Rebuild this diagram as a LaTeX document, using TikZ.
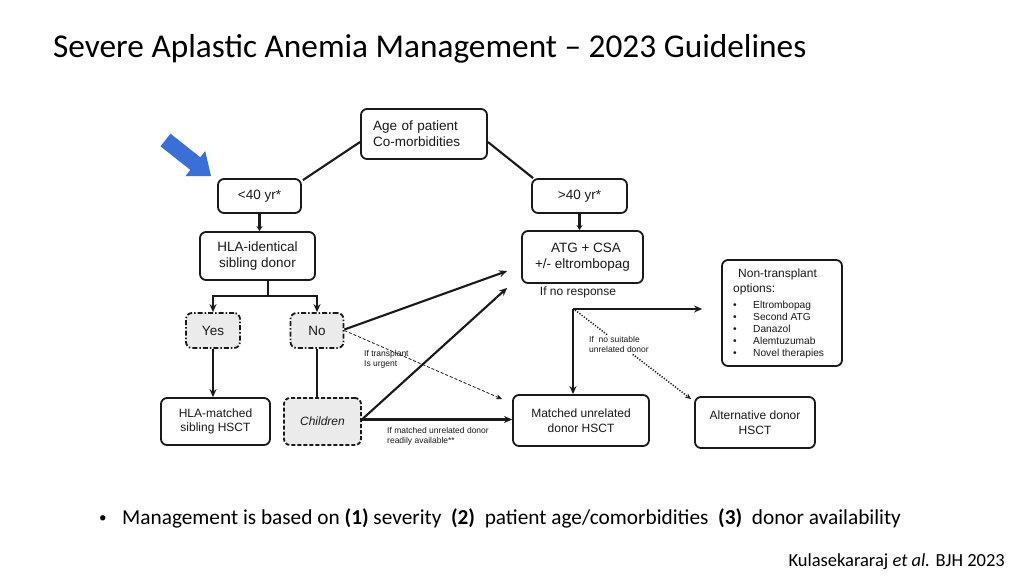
\documentclass[tikz,border=0pt]{standalone}
\usepackage{fontspec}
\setmainfont{Carlito}
\newfontfamily\arialf{Liberation Sans}
\usetikzlibrary{arrows.meta,calc}
\newcommand\dA{\arialf\fontsize{13.5pt}{16pt}\selectfont}
\newcommand\dB{\arialf\fontsize{12pt}{14.5pt}\selectfont}
\newcommand\dS{\arialf\fontsize{8.5pt}{10.5pt}\selectfont}
\newcommand\dL{\arialf\fontsize{10.2pt}{12pt}\selectfont}
\newcommand\dH{\arialf\fontsize{12pt}{15pt}\selectfont}
\definecolor{ink}{HTML}{1A1A1A}
\definecolor{boxgray}{HTML}{EBEBEB}
\definecolor{bluearr}{HTML}{3B6FD8}
\tikzset{
  box/.style={draw=ink, line width=1.8pt, rounded corners=6pt, align=center, inner sep=0pt, text=ink},
  dashdotbox/.style={box, fill=boxgray, dash pattern=on 5pt off 2pt on 1.5pt off 2pt},
  dashbox/.style={box, fill=boxgray, dash pattern=on 4pt off 2pt},
  conn/.style={draw=ink, line width=2.1pt},
  arr/.style={conn, -{Stealth[length=8pt,width=7pt]}},
  smallarr/.style={conn, -{Stealth[length=5pt,width=6pt]}},
  thinarr/.style={draw=ink, line width=0.8pt, dash pattern=on 3pt off 2pt, -{Stealth[length=6pt,width=5pt]}},
  dotarr/.style={draw=ink, line width=1.5pt, dash pattern=on 1.2pt off 1.6pt, -{Stealth[length=6pt,width=5pt]}},
  lbl/.style={inner sep=0pt, align=left, text=ink}
}
\begin{document}
\begin{tikzpicture}[x=1pt,y=-1pt]
\useasboundingbox (0,0) rectangle (1024,576);
\fill[white] (0,0) rectangle (1024,576);

% title
\node[anchor=base west, inner sep=0pt, font=\fontsize{33.3pt}{38pt}\selectfont] (title) at (53,57) {Severe Aplastic Anemia Management -- 2023 Guidelines};

% blue arrow
\fill[bluearr] (160.5,146.3) -- (170.5,133.7) -- (200.3,157.3) -- (205.2,151.0) -- (211,176) -- (185.4,176.2) -- (190.3,169.9) -- cycle;

% boxes
\node[box, minimum width=126pt, minimum height=50pt, text width=102pt, align=left, font=\dA] (age) at (424,134) {Age of patient\\Co-morbidities};
\node[box, minimum width=83pt, minimum height=34pt, font=\dA] (lt40) at (259.5,196) {<40 yr*};
\node[box, minimum width=95pt, minimum height=34pt, font=\dA] (gt40) at (579.5,196) {>40 yr*};
\node[box, minimum width=115pt, minimum height=48pt, font=\dA] (hla) at (257.5,256) {HLA-identical\\sibling donor};
\node[box, minimum width=121pt, minimum height=52pt, font=\dA] (atg) at (582.5,257) {\hspace{7pt}ATG + CSA\\+/- eltrombopag};
\node[box, minimum width=120pt, minimum height=106pt] (nontx) at (782,313) {};
\node[lbl, anchor=north west, font=\dH] (nthead) at (733,269) {\hspace{5pt}Non-transplant\\options:};
\node[lbl, anchor=north west, font=\dL] (ntlist) at (733,301) {%
\makebox[20pt][l]{\textbullet}Eltrombopag\\
\makebox[20pt][l]{\textbullet}Second ATG\\
\makebox[20pt][l]{\textbullet}Danazol\\
\makebox[20pt][l]{\textbullet}Alemtuzumab\\
\makebox[20pt][l]{\textbullet}Novel therapies};
\node[dashdotbox, minimum width=54pt, minimum height=35pt, font=\dA] (yes) at (213,330.5) {Yes};
\node[dashdotbox, minimum width=53pt, minimum height=35pt, font=\dA] (no) at (317,330.5) {No};
\node[box, minimum width=109pt, minimum height=47pt, font=\dB] (sib) at (215.5,421.5) {HLA-matched\\sibling HSCT};
\node[dashbox, minimum width=77pt, minimum height=47pt, font=\dB\itshape] (child) at (322.5,421.5) {Children};
\node[box, minimum width=136pt, minimum height=51pt, font=\dB] (mud) at (581,420.5) {Matched unrelated\\donor HSCT};
\node[box, minimum width=120pt, minimum height=51pt, font=\dB] (alt) at (755,422.5) {Alternative donor\\HSCT};

% labels
\node[lbl, font=\dH, anchor=north] (noresp) at (578,287) {If no response};
\node[lbl, font=\dS, anchor=north west] (urgent) at (364,350) {If transplant\\Is urgent};
\node[lbl, font=\dS, anchor=north west] (avail) at (387,427) {If matched unrelated donor\\readily available**};

% connectors
\draw[conn] ($(age.west)+(0,8)$) -- ($(lt40.north east)+(1,2)$);
\draw[conn] ($(age.east)+(0,8)$) -- ($(gt40.north west)+(2,0)$);
\draw[smallarr] (lt40.south) -- (lt40.south |- hla.north);
\draw[smallarr] (gt40.south) -- (gt40.south |- atg.north);

\coordinate (j) at (268,296);
\draw[conn] (hla.south -| j) -- (j);
\draw[arr] (j) -| (yes.north);
\draw[arr] (j) -| (no.north);
\draw[arr] (yes.south) -- (yes.south |- sib.north);
\draw[conn] (no.south) -- (no.south |- child.north);

\coordinate (t1) at ($(atg.west)+(-14,14)$);
\coordinate (t2) at ($(atg.south west)+(-14,4)$);
\coordinate (cs) at ($(child.east)+(0,-2)$);
\draw[arr] ($(no.east)+(0,-1)$) -- (t1);
\draw[arr] (cs) -- (t2);
\draw[arr] (cs) -- (cs -| mud.west);
\draw[thinarr] (no.east) -- ($(mud.north west)+(-10,5)$);

\coordinate (r) at (573,309);
\coordinate (nte) at ($(nontx.west)+(-19,-4)$);
\draw[arr] (r) -- (r -| nte);
\draw[arr] (r) -- (r |- mud.north);
\draw[dotarr] ($(r)+(2,1)$) -- ($(alt.north west)+(-3,3)$);
\node[lbl, font=\dS, fill=white, inner sep=1pt, anchor=north west] (nosuit) at (588,335) {If\ \ no suitable\\unrelated donor};

% bottom text
\node[anchor=base west, inner sep=0pt, font=\fontsize{15pt}{18pt}\selectfont] (bul) at (99,522) {\textbullet};
\node[anchor=base west, inner sep=0pt, font=\fontsize{21.3pt}{25pt}\selectfont] (mgmt) at (122,524) {Management is based on \textbf{(1)} severity\ \ \textbf{(2)}\ \ patient age/comorbidities\ \ \textbf{(3)}\ \ donor availability};
\node[anchor=base east, inner sep=0pt, font=\fontsize{18.5pt}{22pt}\selectfont] (ref) at (1005,566) {Kulasekararaj \textit{et al.} BJH 2023};
\end{tikzpicture}
\end{document}
